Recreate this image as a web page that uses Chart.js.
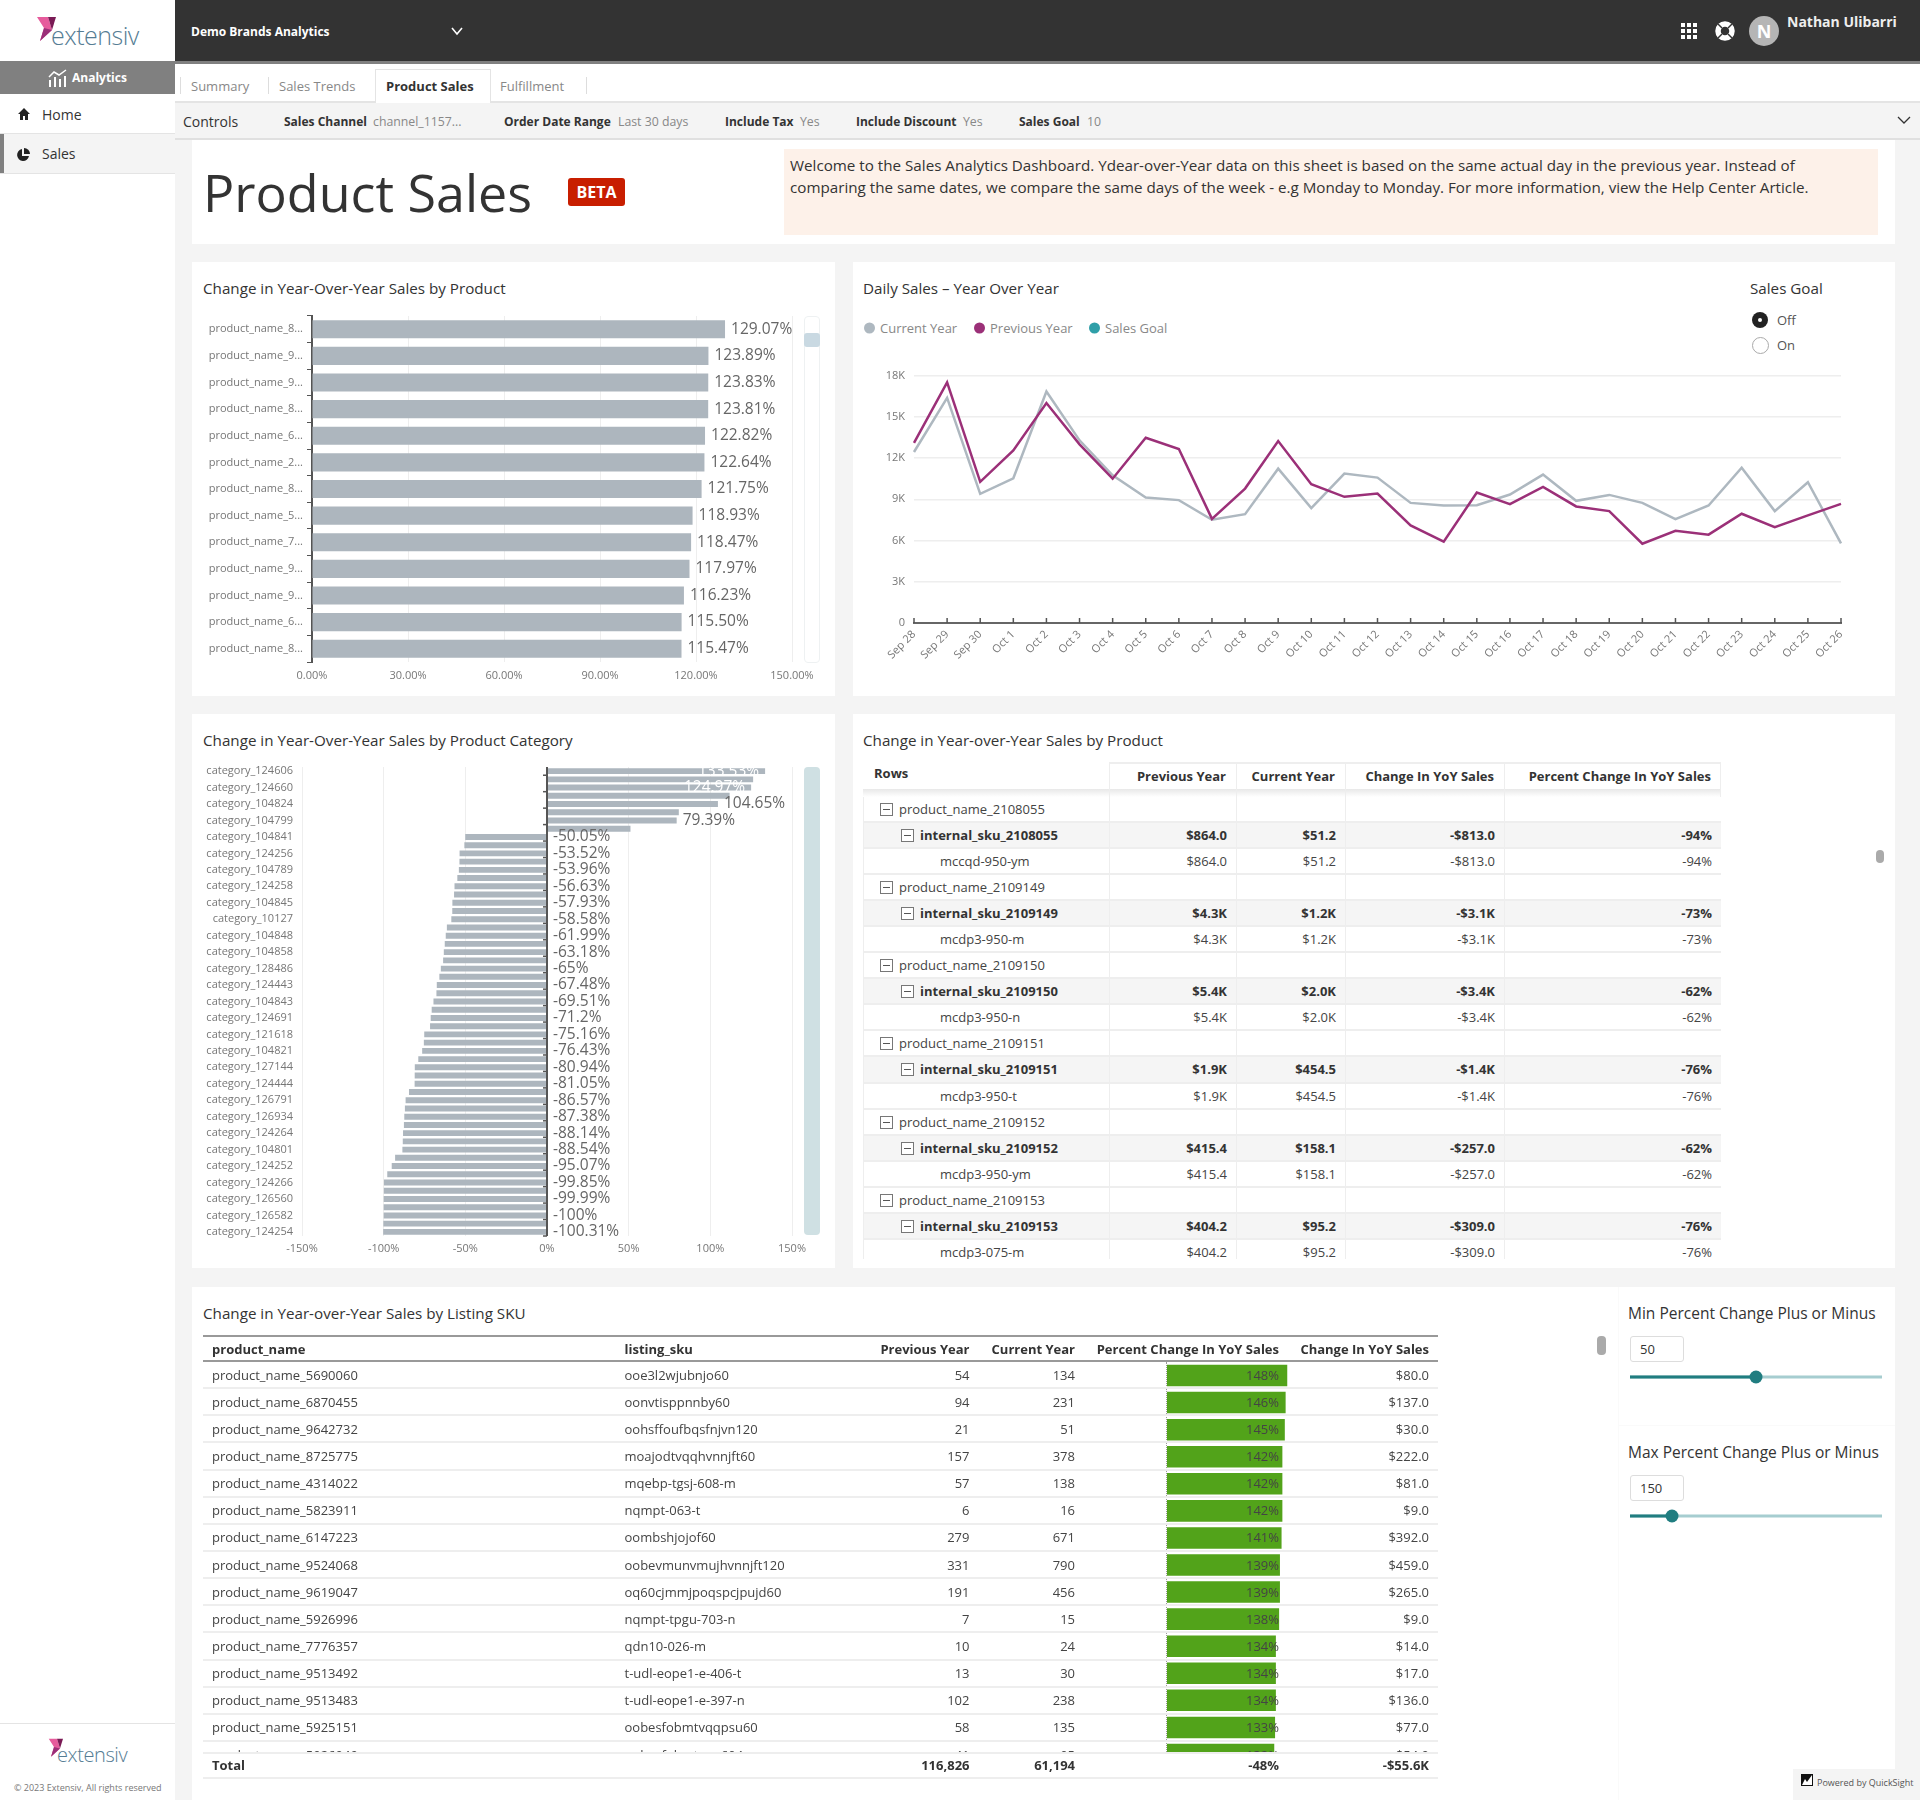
<!DOCTYPE html>
<html>
<head>
<meta charset="utf-8">
<title>Product Sales</title>
<script src="https://cdn.jsdelivr.net/npm/chart.js@4"></script>
<style>
  html, body { margin: 0; padding: 0; background: #f4f4f4; }
  body { position: relative; width: 1920px; height: 1800px; overflow: hidden; font-family: "Open Sans", sans-serif; color: #333; }
  .box { position: absolute; }
  .card { position: absolute; background: #fff; }
  .t { position: absolute; white-space: nowrap; transform: translateY(-50%); }
  .title { font-size: 15.2px; color: #333; }
  .ctl { font-size: 15.5px; color: #333; }
  .tab { font-size: 13px; color: #888; }
  .ck { font-size: 12px; font-weight: 700; }
  .cv { font-size: 12.3px; color: #888; }
  canvas { position: absolute; }
  .legend-dot { position: absolute; width: 11px; height: 11px; border-radius: 50%; transform: translateY(-50%); }
  table { border-collapse: collapse; table-layout: fixed; font-size: 13px; }
  td, th { padding: 0; white-space: nowrap; }
  .num { text-align: right; }
  #pivot td { height: 24.05px; overflow: hidden; border-bottom: 2px solid #eee; border-right: 1px solid #eee; padding-right: 9px; color: #444; }
  #pivot td:first-child { border-left: 1px solid #eee; padding-right: 0; }
  #pivot tr.sku td { background: #f5f5f5; font-weight: 700; color: #333; }
  .minus { display: inline-block; position: relative; width: 11px; height: 11px; border: 1px solid #777; vertical-align: -2px; margin-right: 6px; background: #fff; }
  .minus::after { content: ""; position: absolute; left: 2px; right: 2px; top: 5px; height: 1px; background: #555; }
  #skuTable td { height: 25.15px; border-bottom: 2px solid #eee; color: #444; }
  #skuTable th { font-weight: 700; }
  .slider { position: absolute; height: 3px; transform: translateY(-50%); }
  .knob { position: absolute; width: 13px; height: 13px; border-radius: 50%; background: #207d80; transform: translate(-50%, -50%); }
  .inputbox { position: absolute; width: 52px; height: 24px; border: 1px solid #ddd; border-radius: 3px; background: #fff; font-size: 13px; line-height: 24px; text-indent: 9px; }
</style>
</head>
<body>

<!-- top bar and sidebar -->
<div class="box" style="left:0;top:0;width:1920px;height:61px;background:#333"></div>
<div class="box" style="left:175px;top:61px;width:1745px;height:3px;background:#808080"></div>
<div class="box" style="left:175px;top:64px;width:1745px;height:37px;background:#fff;border-bottom:2px solid #e4e4e4"></div>
<div class="box" style="left:175px;top:103px;width:1745px;height:35px;background:#f4f4f4;border-bottom:2px solid #e0e0e0"></div>
<div class="box" style="left:0;top:0;width:175px;height:1800px;background:#fff"></div>

<svg class="box" style="left:36px;top:16px" width="24" height="28" viewBox="0 0 24 28">
  <polygon points="1,1 12,1 16,14 4,25 8,12" fill="#e65b9c"/>
  <polygon points="12,1 20,1 16,14" fill="#7a1a55"/>
  <polygon points="8,12 16,14 4,25" fill="#9b2f78"/>
</svg>
<div class="t" style="left:51px;top:35px;font-size:25px;font-weight:300;color:#557c93;letter-spacing:-0.5px">extensiv</div>

<div class="box" style="left:0;top:61px;width:175px;height:33px;background:#808080"></div>
<svg class="box" style="left:48px;top:69px" width="19" height="18" viewBox="0 0 19 18" fill="#fff">
  <rect x="1" y="11" width="2" height="7"/><rect x="6" y="8" width="2" height="10"/><rect x="11" y="10" width="2" height="8"/><rect x="16" y="7" width="2" height="11"/>
  <polyline points="1,8 6,3 11,6 18,1" fill="none" stroke="#fff" stroke-width="1.5"/>
</svg>
<div class="t" style="left:72px;top:77px;font-size:12px;font-weight:700;color:#fff">Analytics</div>

<svg class="box" style="left:18px;top:108px" width="12" height="12" viewBox="0 0 12 12" fill="#222"><polygon points="6,0 12,6 10,6 10,12 7,12 7,8 5,8 5,12 2,12 2,6 0,6"/></svg>
<div class="t" style="left:42px;top:113.5px;font-size:14px;color:#333">Home</div>
<div class="box" style="left:0;top:133px;width:175px;height:39px;background:#f4f4f4;border-top:1px solid #e4e4e4;border-bottom:1px solid #e4e4e4"></div>
<div class="box" style="left:0;top:134px;width:4px;height:39px;background:#808080"></div>
<svg class="box" style="left:16px;top:148px" width="14" height="14" viewBox="0 0 14 14" fill="#222"><path d="M6 1 A6 6 0 1 0 13 8 L6 8 Z"/><path d="M8 0 A6 6 0 0 1 14 6 L8 6 Z"/></svg>
<div class="t" style="left:42px;top:152.5px;font-size:14px;color:#333">Sales</div>

<div class="box" style="left:0;top:1723px;width:175px;height:1px;background:#e4e4e4"></div>
<svg class="box" style="left:48px;top:1738px" width="18" height="21" viewBox="0 0 24 28">
  <polygon points="1,1 12,1 16,14 4,25 8,12" fill="#e65b9c"/>
  <polygon points="12,1 20,1 16,14" fill="#7a1a55"/>
  <polygon points="8,12 16,14 4,25" fill="#9b2f78"/>
</svg>
<div class="t" style="left:57px;top:1754px;font-size:20px;font-weight:300;color:#557c93;letter-spacing:-0.4px">extensiv</div>
<div class="t" style="left:14px;top:1787px;font-size:9px;color:#777">© 2023 Extensiv, All rights reserved</div>

<div class="t" style="left:191px;top:30.5px;font-size:12px;font-weight:700;color:#fff">Demo Brands Analytics</div>
<svg class="box" style="left:451px;top:26px" width="12" height="10" viewBox="0 0 12 10"><polyline points="1,2 6,8 11,2" fill="none" stroke="#fff" stroke-width="1.6"/></svg>
<svg class="box" style="left:1681px;top:23px" width="17" height="17" viewBox="0 0 17 17" fill="#fff">
  <rect x="0" y="0" width="4" height="4"/><rect x="6" y="0" width="4" height="4"/><rect x="12" y="0" width="4" height="4"/>
  <rect x="0" y="6" width="4" height="4"/><rect x="6" y="6" width="4" height="4"/><rect x="12" y="6" width="4" height="4"/>
  <rect x="0" y="12" width="4" height="4"/><rect x="6" y="12" width="4" height="4"/><rect x="12" y="12" width="4" height="4"/>
</svg>
<svg class="box" style="left:1715px;top:21px" width="20" height="20" viewBox="0 0 20 20">
  <circle cx="10" cy="10" r="7" fill="none" stroke="#fff" stroke-width="5.5"/>
  <g stroke="#333" stroke-width="1.5"><line x1="3" y1="3" x2="7" y2="7"/><line x1="17" y1="3" x2="13" y2="7"/><line x1="3" y1="17" x2="7" y2="13"/><line x1="17" y1="17" x2="13" y2="13"/></g>
</svg>
<div class="box" style="left:1749px;top:16px;width:30px;height:30px;border-radius:50%;background:#b5b5b5;color:#fff;font-size:18px;font-weight:700;text-align:center;line-height:30px">N</div>
<div class="t" style="left:1787px;top:21px;font-size:14px;font-weight:700;color:#eee">Nathan Ulibarri</div>

<!-- tabs -->
<div class="box" style="left:375px;top:69px;width:114px;height:33px;background:#fff;border:1px solid #e4e4e4;border-bottom:none"></div>
<div class="t tab" style="left:191px;top:86px">Summary</div>
<div class="t tab" style="left:279px;top:86px">Sales Trends</div>
<div class="t tab" style="left:386px;top:86px;font-weight:700;color:#333">Product Sales</div>
<div class="t tab" style="left:500px;top:86px">Fulfillment</div>
<div class="box" style="left:180px;top:77px;width:1px;height:17px;background:#ddd"></div>
<div class="box" style="left:268px;top:77px;width:1px;height:17px;background:#ddd"></div>
<div class="box" style="left:586px;top:77px;width:1px;height:17px;background:#ddd"></div>

<!-- controls -->
<div class="t" style="left:183px;top:121px;font-size:14px;color:#333">Controls</div>
<div class="t ck" style="left:284px;top:121px">Sales Channel</div>
<div class="t cv" style="left:373px;top:121px">channel_1157...</div>
<div class="t ck" style="left:504px;top:121px">Order Date Range</div>
<div class="t cv" style="left:618px;top:121px">Last 30 days</div>
<div class="t ck" style="left:725px;top:121px">Include Tax</div>
<div class="t cv" style="left:800px;top:121px">Yes</div>
<div class="t ck" style="left:856px;top:121px">Include Discount</div>
<div class="t cv" style="left:963px;top:121px">Yes</div>
<div class="t ck" style="left:1019px;top:121px">Sales Goal</div>
<div class="t cv" style="left:1087px;top:121px">10</div>
<svg class="box" style="left:1897px;top:115px" width="14" height="10" viewBox="0 0 14 10"><polyline points="1,2 7,8 13,2" fill="none" stroke="#333" stroke-width="1.3"/></svg>

<!-- heading card -->
<div class="card" style="left:192px;top:140px;width:1703px;height:104px"></div>
<div class="t" style="left:203px;top:191px;font-size:52px;color:#333">Product Sales</div>
<div class="box" style="left:568px;top:178px;width:57px;height:28px;background:#c81e00;border-radius:3px;color:#fff;font-size:16px;font-weight:700;text-align:center;line-height:28px">BETA</div>
<div class="box" style="left:784px;top:149px;width:1094px;height:86px;background:#fdf1e9"></div>
<div class="t" style="left:790px;top:165px;font-size:15.2px;color:#333">Welcome to the Sales Analytics Dashboard. Ydear-over-Year data on this sheet is based on the same actual day in the previous year. Instead of</div>
<div class="t" style="left:790px;top:187px;font-size:15.2px;color:#333">comparing the same dates, we compare the same days of the week - e.g Monday to Monday. For more information, view the Help Center Article.</div>

<!-- top left: product bars -->
<div class="card" style="left:192px;top:262px;width:643px;height:434px"></div>
<div class="t title" style="left:203px;top:288px">Change in Year-Over-Year Sales by Product</div>
<canvas id="productChart" width="625" height="380" style="left:200px;top:310px"></canvas>
<div class="box" style="left:804px;top:316px;width:14px;height:345px;border:1px solid #eef1f2;border-radius:4px"></div>
<div class="box" style="left:804px;top:333px;width:16px;height:14px;background:#c9d9e2;border-radius:3px"></div>

<!-- top right: daily line chart -->
<div class="card" style="left:853px;top:262px;width:1042px;height:434px"></div>
<div class="t title" style="left:863px;top:288px">Daily Sales – Year Over Year</div>
<div id="dailyLegend"></div>
<canvas id="dailyChart" width="1000" height="330" style="left:860px;top:360px"></canvas>
<div class="t title" style="left:1750px;top:288px">Sales Goal</div>
<div class="box" style="left:1752px;top:312px;width:16px;height:16px;border-radius:50%;background:#222"></div>
<div class="box" style="left:1758px;top:318px;width:4px;height:4px;border-radius:50%;background:#fff"></div>
<div class="t" style="left:1777px;top:320px;font-size:13px;color:#555">Off</div>
<div class="box" style="left:1752px;top:337px;width:15px;height:15px;border-radius:50%;border:1px solid #aaa;background:#fff"></div>
<div class="t" style="left:1777px;top:345px;font-size:13px;color:#555">On</div>

<!-- middle left: category bars -->
<div class="card" style="left:192px;top:714px;width:643px;height:554px"></div>
<div class="t title" style="left:203px;top:740px">Change in Year-Over-Year Sales by Product Category</div>
<canvas id="categoryChart" width="625" height="502" style="left:200px;top:760px"></canvas>
<div class="box" style="left:804px;top:767px;width:16px;height:468px;background:#cfe0e3;border-radius:4px"></div>

<!-- middle right: pivot table -->
<div class="card" style="left:853px;top:714px;width:1042px;height:554px"></div>
<div class="t title" style="left:863px;top:740px">Change in Year-over-Year Sales by Product</div>
<div class="box" style="left:863px;top:762px;width:858px;height:35px;overflow:hidden" id="pivotHead"></div>
<div class="box" style="left:863px;top:797px;width:858px;height:462px;overflow:hidden"><table id="pivot" style="width:858px"></table></div>
<div class="box" style="left:1876px;top:850px;width:8px;height:13px;border-radius:4px;background:#aaa"></div>

<!-- bottom: listing sku table -->
<div class="card" style="left:192px;top:1287px;width:1703px;height:513px"></div>
<div class="t title" style="left:203px;top:1313px">Change in Year-over-Year Sales by Listing SKU</div>
<div class="box" style="left:1166px;top:1362px;width:130px;height:390px;overflow:hidden;border-left:1px dotted #999">
  <canvas id="skuBars" width="130" height="406" style="left:0;top:0"></canvas>
</div>
<div class="box" style="left:203px;top:1335px;width:1235px;height:417px;overflow:hidden" id="skuWrap"></div>
<div class="box" style="left:203px;top:1752px;width:1235px;height:27px;overflow:hidden;background:#fff;border-top:2px solid #eee;border-bottom:2px solid #eee;box-sizing:border-box" id="skuTotal"></div>
<div class="box" style="left:1597px;top:1336px;width:9px;height:19px;border-radius:4px;background:#aaa"></div>

<!-- percent sliders -->
<div class="box" style="left:1618px;top:1287px;width:1px;height:513px;background:#fafafa"></div>
<div class="box" style="left:1618px;top:1425px;width:277px;height:1px;background:#fafafa"></div>
<div class="t ctl" style="left:1628px;top:1313px">Min Percent Change Plus or Minus</div>
<div class="inputbox" style="left:1630px;top:1336px">50</div>
<div class="slider" style="left:1630px;top:1377px;width:252px;background:#a6cdd0"></div>
<div class="slider" style="left:1630px;top:1377px;width:126px;background:#207d80"></div>
<div class="knob" style="left:1756px;top:1377px"></div>
<div class="t ctl" style="left:1628px;top:1452px">Max Percent Change Plus or Minus</div>
<div class="inputbox" style="left:1630px;top:1475px">150</div>
<div class="slider" style="left:1630px;top:1516px;width:252px;background:#a6cdd0"></div>
<div class="slider" style="left:1630px;top:1516px;width:42px;background:#207d80"></div>
<div class="knob" style="left:1672px;top:1516px"></div>

<div class="box" style="left:1793px;top:1769px;width:127px;height:31px;background:#f4f4f4"></div>
<svg class="box" style="left:1801px;top:1774px" width="12" height="12" viewBox="0 0 12 12"><rect width="12" height="12" fill="#111"/><polygon points="1,11 4,5 6,8 11,1 11,11" fill="#fff"/></svg>
<div class="t" style="left:1817px;top:1782px;font-size:9px;color:#555">Powered by QuickSight</div>

<script>
const productLabels = ['product_name_8...', 'product_name_9...', 'product_name_9...', 'product_name_8...', 'product_name_6...', 'product_name_2...', 'product_name_8...', 'product_name_5...', 'product_name_7...', 'product_name_9...', 'product_name_9...', 'product_name_6...', 'product_name_8...'];
const productChange = [129.07, 123.89, 123.83, 123.81, 122.82, 122.64, 121.75, 118.93, 118.47, 117.97, 116.23, 115.50, 115.47];

const dayLabels = ['Sep 28', 'Sep 29', 'Sep 30', 'Oct 1', 'Oct 2', 'Oct 3', 'Oct 4', 'Oct 5', 'Oct 6', 'Oct 7', 'Oct 8', 'Oct 9', 'Oct 10', 'Oct 11', 'Oct 12', 'Oct 13', 'Oct 14', 'Oct 15', 'Oct 16', 'Oct 17', 'Oct 18', 'Oct 19', 'Oct 20', 'Oct 21', 'Oct 22', 'Oct 23', 'Oct 24', 'Oct 25', 'Oct 26'];
const currentYear = [12440, 16380, 9400, 10530, 16840, 13290, 10750, 9130, 8940, 7510, 7920, 11230, 8360, 10870, 10580, 8740, 8550, 8570, 9350, 10800, 8890, 9320, 8740, 7560, 8550, 11300, 8140, 10240, 5800];
const previousYear = [13100, 17500, 10270, 12560, 16000, 13000, 10500, 13480, 12660, 7580, 9780, 13240, 10100, 9180, 9420, 7100, 5920, 9490, 8650, 9900, 8480, 8140, 5770, 6710, 6430, 7950, 6980, 7830, 8670];
const salesGoal = [];

// only every second category name is shown on the axis
const categoryLabels = ['category_124606', '', 'category_124660', '', 'category_104824', '', 'category_104799', '', 'category_104841', '', 'category_124256', '', 'category_104789', '', 'category_124258', '', 'category_104845', '', 'category_10127', '', 'category_104848', '', 'category_104858', '', 'category_128486', '', 'category_124443', '', 'category_104843', '', 'category_124691', '', 'category_121618', '', 'category_104821', '', 'category_127144', '', 'category_124444', '', 'category_126791', '', 'category_126934', '', 'category_124264', '', 'category_104801', '', 'category_124252', '', 'category_124266', '', 'category_126560', '', 'category_126582', '', 'category_124254'];
const categoryChange = [133.53, 126.2, 124.97, 111.8, 104.65, 80.7, 79.39, 51.1, -50.05, -50.6, -53.52, -53.6, -53.96, -54.9, -56.63, -56.9, -57.93, -58, -58.58, -61.3, -61.99, -62.6, -63.18, -63.6, -65, -65.9, -67.48, -67.7, -69.51, -70.6, -71.2, -71.6, -75.16, -75.4, -76.43, -78.8, -80.94, -81, -81.05, -84.5, -86.57, -87, -87.38, -87.6, -88.14, -88.3, -88.54, -93, -95.07, -97.8, -99.85, -99.9, -99.99, -100, -100, -100.2, -100.31];

const pivotProducts = ['product_name_2108055', 'product_name_2109149', 'product_name_2109150', 'product_name_2109151', 'product_name_2109152', 'product_name_2109153'];
const pivotSkus = ['internal_sku_2108055', 'internal_sku_2109149', 'internal_sku_2109150', 'internal_sku_2109151', 'internal_sku_2109152', 'internal_sku_2109153'];
const pivotListings = ['mccqd-950-ym', 'mcdp3-950-m', 'mcdp3-950-n', 'mcdp3-950-t', 'mcdp3-950-ym', 'mcdp3-075-m'];
const pivotPrevious = ['$864.0', '$4.3K', '$5.4K', '$1.9K', '$415.4', '$404.2'];
const pivotCurrent = ['$51.2', '$1.2K', '$2.0K', '$454.5', '$158.1', '$95.2'];
const pivotChange = ['-$813.0', '-$3.1K', '-$3.4K', '-$1.4K', '-$257.0', '-$309.0'];
const pivotPercent = ['-94%', '-73%', '-62%', '-76%', '-62%', '-76%'];

const skuProducts = ['product_name_5690060', 'product_name_6870455', 'product_name_9642732', 'product_name_8725775', 'product_name_4314022', 'product_name_5823911', 'product_name_6147223', 'product_name_9524068', 'product_name_9619047', 'product_name_5926996', 'product_name_7776357', 'product_name_9513492', 'product_name_9513483', 'product_name_5925151', 'product_name_5926049'];
const skuListings = ['ooe3l2wjubnjo60', 'oonvtisppnnby60', 'oohsffoufbqsfnjvn120', 'moajodtvqqhvnnjft60', 'mqebp-tgsj-608-m', 'nqmpt-063-t', 'oombshjojof60', 'oobevmunvmujhvnnjft120', 'oq60cjmmjpoqspcjpujd60', 'nqmpt-tpgu-703-n', 'qdn10-026-m', 't-udl-eope1-e-406-t', 't-udl-eope1-e-397-n', 'oobesfobmtvqqpsu60', 'oobesfobmtvqq604'];
const skuPrevious = [54, 94, 21, 157, 57, 6, 279, 331, 191, 7, 10, 13, 102, 58, 41];
const skuCurrent = [134, 231, 51, 378, 138, 16, 671, 790, 456, 15, 24, 30, 238, 135, 95];
const skuPercent = [148, 146, 145, 142, 142, 142, 141, 139, 139, 138, 134, 134, 134, 133, 132];
const skuChange = ['$80.0', '$137.0', '$30.0', '$222.0', '$81.0', '$9.0', '$392.0', '$459.0', '$265.0', '$9.0', '$14.0', '$17.0', '$136.0', '$77.0', '$54.0'];
const skuTotals = ['Total', '', '116,826', '61,194', '-48%', '-$55.6K'];

Chart.defaults.font.family = '"Open Sans", sans-serif';
Chart.defaults.animation = false;

const barGrey = '#adb6be';

// value labels next to the bars, positioned from the bar elements
const barValueLabels = {
    id: 'barValueLabels',
    afterDatasetsDraw(chart, args, opts) {
        const ctx = chart.ctx;
        const area = chart.chartArea;
        const bars = chart.getDatasetMeta(0).data;
        ctx.save();
        ctx.beginPath();
        ctx.rect(area.left, area.top, area.width + 40, area.height + 4);
        ctx.clip();
        ctx.font = '15.5px "Open Sans"';
        ctx.textBaseline = 'middle';
        bars.forEach((bar, i) => {
            const text = opts.text(i);
            if (!text) return;
            if (opts.inside && opts.inside.includes(i)) {
                ctx.textAlign = 'right';
                ctx.fillStyle = '#fff';
                ctx.fillText(text, bar.x - 6, bar.y);
                return;
            }
            ctx.textAlign = 'left';
            ctx.fillStyle = '#666';
            ctx.fillText(text, Math.max(bar.x, chart.scales.x.getPixelForValue(0)) + 6, bar.y);
        });
        ctx.restore();
    }
};

// small marks on the zero line of the category chart and above the date axis
const zeroMarks = {
    id: 'zeroMarks',
    afterDraw(chart, args, opts) {
        const ctx = chart.ctx;
        ctx.save();
        ctx.strokeStyle = '#555';
        ctx.lineWidth = 1.5;
        if (opts.mode === 'category') {
            const x0 = chart.scales.x.getPixelForValue(0);
            const y = chart.scales.y;
            const step = y.getPixelForValue(1) - y.getPixelForValue(0);
            for (let i = 0; i < categoryChange.length; i += 2) {
                const py = y.getPixelForValue(i) + step / 2;
                ctx.beginPath();
                ctx.moveTo(x0 - 4, py);
                ctx.lineTo(x0, py);
                ctx.stroke();
            }
        } else {
            const bottom = chart.chartArea.bottom;
            dayLabels.forEach((d, i) => {
                const px = chart.scales.x.getPixelForValue(i);
                ctx.beginPath();
                ctx.moveTo(px, bottom);
                ctx.lineTo(px, bottom - 5);
                ctx.stroke();
            });
        }
        ctx.restore();
    }
};

// keep the plot area where the layout padding puts it
function fixScaleBox(scale, size) {
    if (scale.isHorizontal()) {
        scale.height = size;
        scale.paddingLeft = 0;
        scale.paddingRight = 0;
    } else {
        scale.width = size;
        scale.paddingTop = 0;
        scale.paddingBottom = 0;
    }
}

function renderProductChart() {
    new Chart(document.getElementById('productChart').getContext('2d'), {
        type: 'bar',
        data: {
            labels: productLabels,
            datasets: [{ data: productChange, backgroundColor: barGrey, barPercentage: 0.68, categoryPercentage: 1 }]
        },
        options: {
            responsive: false,
            indexAxis: 'y',
            layout: { padding: { top: 6, right: 33 } },
            plugins: {
                legend: { display: false },
                tooltip: { enabled: false },
                barValueLabels: { text: i => productChange[i].toFixed(2) + '%' }
            },
            scales: {
                x: {
                    min: 0, max: 150,
                    grid: { color: '#eee', drawTicks: false },
                    border: { display: false },
                    ticks: { stepSize: 30, color: '#777', padding: 7, font: { size: 11 }, callback: v => v.toFixed(2) + '%' },
                    afterFit: s => fixScaleBox(s, 28)
                },
                y: {
                    grid: { drawOnChartArea: false, tickLength: 5, tickColor: '#555' },
                    border: { color: '#555', width: 2 },
                    ticks: { color: '#777', padding: 4, autoSkip: false, font: { size: 11 } },
                    afterFit: s => fixScaleBox(s, 112)
                }
            }
        },
        plugins: [barValueLabels]
    });
}

function renderDailyChart() {
    new Chart(document.getElementById('dailyChart').getContext('2d'), {
        type: 'line',
        data: {
            labels: dayLabels,
            datasets: [
                { label: 'Current Year', data: currentYear, borderColor: '#aeb8c0', borderWidth: 2.5, pointRadius: 0, tension: 0, order: 2 },
                { label: 'Previous Year', data: previousYear, borderColor: '#9b3078', borderWidth: 2.5, pointRadius: 0, tension: 0, order: 1 },
                { label: 'Sales Goal', data: salesGoal, borderColor: '#2f9fa8', borderWidth: 2, pointRadius: 0, order: 3 }
            ]
        },
        options: {
            responsive: false,
            layout: { padding: { top: 15, right: 19 } },
            plugins: {
                legend: { display: false },
                tooltip: { enabled: false },
                zeroMarks: { mode: 'date' }
            },
            scales: {
                x: {
                    grid: { drawOnChartArea: false, drawTicks: false },
                    border: { color: '#666', width: 2 },
                    ticks: { color: '#777', autoSkip: false, maxRotation: 45, minRotation: 45, padding: 5, font: { size: 11 } },
                    afterFit: s => { s.height = 67; }
                },
                y: {
                    min: 0, max: 18000,
                    grid: { color: '#eee', lineWidth: 1.5, drawTicks: false },
                    border: { display: false },
                    ticks: { stepSize: 3000, color: '#777', padding: 9, font: { size: 11 }, callback: v => v === 0 ? '0' : (v / 1000) + 'K' },
                    afterFit: s => { s.width = 54; }
                }
            }
        },
        plugins: [zeroMarks]
    });

    const legendColors = ['#aeb8c0', '#9b3078', '#2f9fa8'];
    const legendDots = [869, 979, 1094];
    const holder = document.getElementById('dailyLegend');
    ['Current Year', 'Previous Year', 'Sales Goal'].forEach((name, i) => {
        holder.insertAdjacentHTML('beforeend',
            `<div class="legend-dot" style="left:${legendDots[i] - 5}px;top:328px;background:${legendColors[i]}"></div>` +
            `<div class="t" style="left:${legendDots[i] + 11}px;top:328px;font-size:13px;color:#888">${name}</div>`);
    });
}

function renderCategoryChart() {
    new Chart(document.getElementById('categoryChart').getContext('2d'), {
        type: 'bar',
        data: {
            labels: categoryLabels,
            datasets: [{ data: categoryChange, backgroundColor: barGrey, barPercentage: 0.72, categoryPercentage: 1 }]
        },
        options: {
            responsive: false,
            indexAxis: 'y',
            layout: { padding: { top: 7, right: 33 } },
            plugins: {
                legend: { display: false },
                tooltip: { enabled: false },
                zeroMarks: { mode: 'category' },
                barValueLabels: {
                    text: i => i % 2 === 0 ? categoryChange[i] + '%' : '',
                    inside: [0, 2]
                }
            },
            scales: {
                x: {
                    min: -150, max: 150,
                    grid: {
                        color: c => c.tick.value === 0 ? '#555' : '#eee',
                        lineWidth: c => c.tick.value === 0 ? 2 : 1,
                        drawTicks: false
                    },
                    border: { display: false },
                    ticks: { stepSize: 50, color: '#777', padding: 6, font: { size: 11 }, callback: v => v + '%' },
                    afterFit: s => fixScaleBox(s, 26)
                },
                y: {
                    grid: { drawOnChartArea: false, drawTicks: false },
                    border: { display: false },
                    ticks: { color: '#777', padding: 9, autoSkip: false, font: { size: 11 } },
                    afterFit: s => fixScaleBox(s, 102)
                }
            }
        },
        plugins: [barValueLabels, zeroMarks]
    });
}

function renderSkuBars() {
    new Chart(document.getElementById('skuBars').getContext('2d'), {
        type: 'bar',
        data: {
            labels: skuProducts,
            datasets: [{ data: skuPercent, backgroundColor: '#52a31a', barPercentage: 0.795, categoryPercentage: 1 }]
        },
        options: {
            responsive: false,
            indexAxis: 'y',
            plugins: { legend: { display: false }, tooltip: { enabled: false } },
            scales: {
                x: { display: false, min: 0, max: 160 },
                y: { display: false }
            }
        }
    });
}

function buildPivotTable() {
    document.getElementById('pivotHead').innerHTML = `
      <div class="t" style="left:11px;top:11px;font-size:13px;font-weight:700">Rows</div>
      <div class="box" style="left:0;top:27px;width:858px;height:8px;background:linear-gradient(#e8e8e8,#fff)"></div>
      <div class="box" style="left:246px;top:0;width:611px;height:2px;background:#eee"></div>
      <div class="box" style="left:246px;top:0;width:1px;height:35px;background:#eee"></div>
      <div class="box" style="left:373px;top:0;width:1px;height:35px;background:#eee"></div>
      <div class="box" style="left:482px;top:0;width:1px;height:35px;background:#eee"></div>
      <div class="box" style="left:641px;top:0;width:1px;height:35px;background:#eee"></div>
      <div class="box" style="left:857px;top:0;width:1px;height:35px;background:#eee"></div>
      <div class="t" style="right:495px;top:14px;font-size:13px;font-weight:700">Previous Year</div>
      <div class="t" style="right:386px;top:14px;font-size:13px;font-weight:700">Current Year</div>
      <div class="t" style="right:227px;top:14px;font-size:13px;font-weight:700">Change In YoY Sales</div>
      <div class="t" style="right:10px;top:14px;font-size:13px;font-weight:700">Percent Change In YoY Sales</div>`;

    let html = '<colgroup><col style="width:246px"><col style="width:127px"><col style="width:109px"><col style="width:159px"><col style="width:217px"></colgroup>';
    pivotProducts.forEach((name, i) => {
        html += `<tr><td style="padding-left:16px"><span class="minus"></span>${name}</td><td></td><td></td><td></td><td></td></tr>`;
        html += `<tr class="sku"><td style="padding-left:37px"><span class="minus"></span>${pivotSkus[i]}</td>` +
            `<td class="num">${pivotPrevious[i]}</td><td class="num">${pivotCurrent[i]}</td><td class="num">${pivotChange[i]}</td><td class="num">${pivotPercent[i]}</td></tr>`;
        html += `<tr><td style="padding-left:76px">${pivotListings[i]}</td>` +
            `<td class="num">${pivotPrevious[i]}</td><td class="num">${pivotCurrent[i]}</td><td class="num">${pivotChange[i]}</td><td class="num">${pivotPercent[i]}</td></tr>`;
    });
    document.getElementById('pivot').innerHTML = html;
}

function buildSkuTable() {
    const cols = '<colgroup><col style="width:421.5px"><col style="width:200px"><col style="width:145px"><col style="width:105.5px"><col style="width:204px"><col style="width:159px"></colgroup>';
    const headStyle = 'height:23px;border-top:2px solid #999;border-bottom:2px solid #999;';
    let html = `<table id="skuTable" style="width:1235px">${cols}<tr>` +
        `<th style="${headStyle}text-align:left;padding-left:9px">product_name</th>` +
        `<th style="${headStyle}text-align:left">listing_sku</th>` +
        `<th class="num" style="${headStyle}">Previous Year</th>` +
        `<th class="num" style="${headStyle}">Current Year</th>` +
        `<th class="num" style="${headStyle}">Percent Change In YoY Sales</th>` +
        `<th class="num" style="${headStyle}padding-right:9px">Change In YoY Sales</th></tr>`;
    skuProducts.forEach((name, i) => {
        html += `<tr><td style="padding-left:9px">${name}</td><td>${skuListings[i]}</td>` +
            `<td class="num">${skuPrevious[i]}</td><td class="num">${skuCurrent[i]}</td>` +
            `<td class="num">${skuPercent[i]}%</td><td class="num" style="padding-right:9px">${skuChange[i]}</td></tr>`;
    });
    document.getElementById('skuWrap').innerHTML = html + '</table>';

    document.getElementById('skuTotal').innerHTML =
        `<table style="width:1235px;font-weight:700">${cols}<tr style="height:21px">` +
        `<td style="padding-left:9px">${skuTotals[0]}</td><td>${skuTotals[1]}</td>` +
        `<td class="num">${skuTotals[2]}</td><td class="num">${skuTotals[3]}</td>` +
        `<td class="num">${skuTotals[4]}</td><td class="num" style="padding-right:9px">${skuTotals[5]}</td></tr></table>`;
}

buildPivotTable();
buildSkuTable();
renderProductChart();
renderDailyChart();
renderCategoryChart();
renderSkuBars();
</script>
</body>
</html>
